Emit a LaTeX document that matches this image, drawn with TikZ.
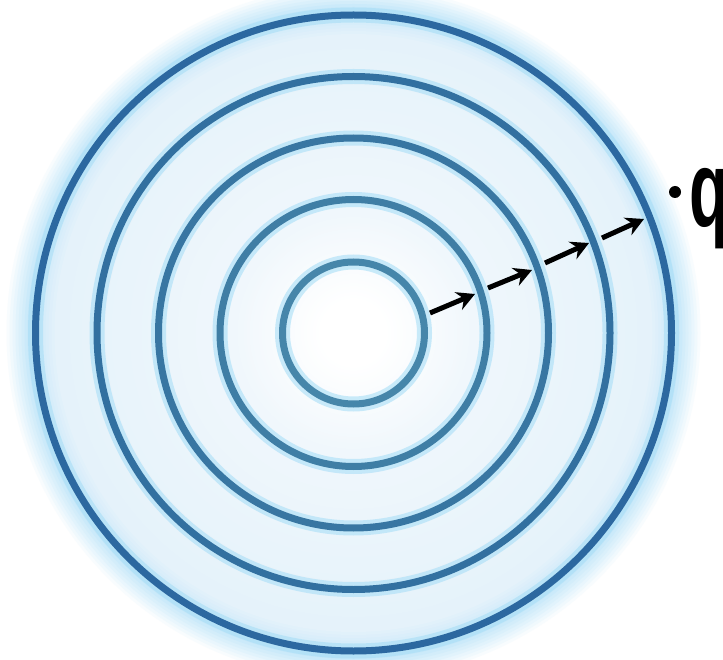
\documentclass[tikz,border=0pt]{standalone}
\usepackage{fontspec}
\newfontfamily\qfont{Liberation Sans}
\usetikzlibrary{arrows.meta}
\definecolor{bgmid}{RGB}{240,247,252}
\definecolor{bgout}{RGB}{229,242,250}
\definecolor{bgrim}{RGB}{196,231,249}
\definecolor{ringA}{RGB}{44,104,160}
\definecolor{ringB}{RGB}{50,112,160}
\definecolor{ringC}{RGB}{56,118,162}
\definecolor{ringD}{RGB}{63,126,165}
\definecolor{ringE}{RGB}{70,134,170}
\definecolor{halocol}{RGB}{168,222,247}
\tikzset{
  halo/.style={line width=15pt, draw=halocol, opacity=0.6},
  ring/.style={line width=7pt},
  flowarrow/.style={line width=5pt, black, -{Stealth[length=18pt,width=19pt,inset=6pt]}},
  qdot/.style={circle, fill=black, inner sep=0pt, minimum size=12pt},
  qlab/.style={anchor=base west, inner sep=0pt, font=\qfont\bfseries\fontsize{108}{108}\selectfont}
}
\begin{document}
\begin{tikzpicture}[x=1pt,y=-1pt]
\useasboundingbox (0,0) rectangle (723,660);
\clip (0,0) rectangle (723,660);
\fill[white] (0,0) rectangle (723,660);
\coordinate (c) at (353.5,333);
% glow of the disk, built from stacked discs
\foreach \r in {350,347,...,326}{
  \pgfmathsetmacro\p{(350-\r)/24*100}
  \fill[bgrim!\p!white] (c) circle[radius=\r pt];
}
\foreach \r in {323,320,...,299}{
  \pgfmathsetmacro\p{(326-\r)/27*100}
  \fill[bgout!\p!bgrim] (c) circle[radius=\r pt];
}
\foreach \r in {296,290,...,122}{
  \pgfmathsetmacro\p{(299-\r)/177*100}
  \fill[bgmid!\p!bgout] (c) circle[radius=\r pt];
}
\foreach \r in {119,116,...,35}{
  \pgfmathsetmacro\p{(122-\r)/87*100}
  \fill[white!\p!bgmid] (c) circle[radius=\r pt];
}
\foreach \r/\col in {318/ringA,256.5/ringB,195/ringC,133.5/ringD,71/ringE}{
  \draw[halo] (c) circle[radius=\r pt];
  \draw[ring,draw=\col] (c) circle[radius=\r pt];
}
\coordinate (t1) at (430,313);
\coordinate (h1) at (475,294);
\coordinate (t2) at (488,288);
\coordinate (h2) at (532,270);
\coordinate (t3) at (545,263);
\coordinate (h3) at (589,243);
\coordinate (t4) at (602,238);
\coordinate (h4) at (644,219);
\draw[flowarrow] (t1) -- (h1);
\draw[flowarrow] (t2) -- (h2);
\draw[flowarrow] (t3) -- (h3);
\draw[flowarrow] (t4) -- (h4);
\node[qdot] (dot) at (675,192) {};
\node[qlab] (q) at (689,227) {\scalebox{0.6}[1]{q}};
\end{tikzpicture}
\end{document}
